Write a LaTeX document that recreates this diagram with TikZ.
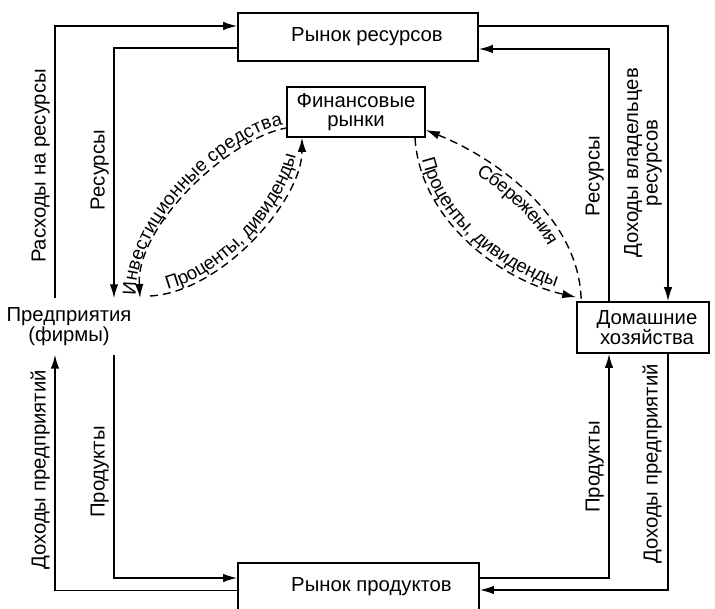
\documentclass[tikz,border=0pt]{standalone}
\usepackage{fontspec}
\setmainfont{Liberation Sans}
\usetikzlibrary{arrows.meta,decorations.text}
\newcommand\mainfs{\fontsize{20.3pt}{19.5pt}\selectfont}
\newcommand\curvefs{\fontsize{18.8pt}{19pt}\selectfont}
\begin{document}
\begin{tikzpicture}[x=1pt,y=-1pt,
  box/.style={draw, line width=1.6pt, inner sep=2pt, font=\mainfs, align=center},
  txt/.style={font=\mainfs, align=center, inner sep=0pt},
  vlab/.style={font=\mainfs, rotate=90, anchor=south, inner sep=0pt, align=center},
  flow/.style={line width=1.6pt, -{Latex[length=14pt,width=8.5pt]}},
  dflow/.style={line width=1.4pt, dash pattern=on 8pt off 5pt, -{Latex[length=14pt,width=8.5pt]}},
  dflowback/.style={line width=1.4pt, dash pattern=on 8pt off 5pt, {Latex[length=14pt,width=8.5pt]}-},
]
\useasboundingbox (0,0) rectangle (715,609);
\clip (0,0) rectangle (715,609);

% nodes
\node[box, minimum width=240pt, minimum height=48pt] (resm) at (358,37) {\hspace*{18pt}Рынок ресурсов};
\node[box, minimum width=241pt, minimum height=48pt] (prodm) at (358.5,587) {\hspace*{26pt}Рынок продуктов};
\node[box, minimum width=138pt, minimum height=50pt, inner sep=1pt] (fin) at (356,112) {Финансовые\\рынки};
\node[box, minimum width=132pt, minimum height=51pt] (hh) at (643,327.5) {\hspace*{8pt}Домашние\\\hspace*{8pt}хозяйства};
\node[txt, minimum height=56pt] (firm) at (69,326.5) {Предприятия\\(фирмы)};

% line x positions
\coordinate (xA) at (55,0);
\coordinate (xB) at (114,0);
\coordinate (xC) at (609,0);
\coordinate (xD) at (668,0);

% solid flows
\draw[flow] (firm.north -| xA) |- ([yshift=11pt]resm.west);
\draw[flow] ([yshift=-11pt]resm.west) -| (firm.north -| xB);
\draw[flow] ([yshift=11pt]resm.east) -| (hh.north -| xD);
\draw[flow] (hh.north -| xC) |- ([yshift=-12pt]resm.east);
\draw[flow] (firm.south -| xB) |- ([yshift=9pt]prodm.west);
\draw[flow] ([yshift=-3.5pt]prodm.west) -| (firm.south -| xA);
\draw[flow] ([yshift=9pt]prodm.east) -| (hh.south -| xC);
\draw[flow] (hh.south -| xD) |- ([yshift=-3pt]prodm.east);

% vertical labels
\node[vlab] (l1) at (50,166) {Расходы на ресурсы};
\node[vlab] (l2) at (109,170) {Ресурсы};
\node[vlab] (l3) at (50,470) {Доходы предприятий};
\node[vlab] (l4) at (109,472) {Продукты};
\node[vlab] (l5) at (604,176) {Ресурсы};
\node[vlab] (l6) at (662,163) {Доходы владельцев\\ресурсов};
\node[vlab] (l7) at (604,467) {Продукты};
\node[vlab] (l8) at (662,464) {Доходы предприятий};

% curve end points
\coordinate (invF) at (140,298);
\coordinate (invM) at ([yshift=-16pt]fin.west);
\coordinate (proF) at (150,296);
\coordinate (proM) at ([xshift=-54pt]fin.south);
\coordinate (sbM) at ([yshift=-18pt]fin.east);
\coordinate (sbH) at ([xshift=5pt]hh.north west);
\coordinate (prM) at ([xshift=59pt]fin.south);
\coordinate (prH) at ([yshift=4pt]hh.north west);

% dashed curves
\draw[dflowback, postaction={decorate, decoration={text along path, text={|\curvefs|Инвестиционные средства}, text align=center, raise=4pt}}]
  (invF) .. controls (136,225) and (230,138) .. (invM);
\draw[dflow, postaction={decorate, decoration={text along path, text={|\curvefs|Проценты, дивиденды}, text align=center, raise=4pt}}]
  (proF) .. controls (222,292) and (302,200) .. (proM);
\draw[dflowback, postaction={decorate, decoration={text along path, text={|\curvefs|Сбережения}, text align=center, raise=-17pt}}]
  (sbM) .. controls (500,160) and (580,220) .. (sbH);
\draw[dflow, postaction={decorate, decoration={text along path, text={|\curvefs|Проценты, дивиденды}, text align=center, raise=4pt}}]
  (prM) .. controls (420,220) and (500,280) .. (prH);
\end{tikzpicture}
\end{document}
